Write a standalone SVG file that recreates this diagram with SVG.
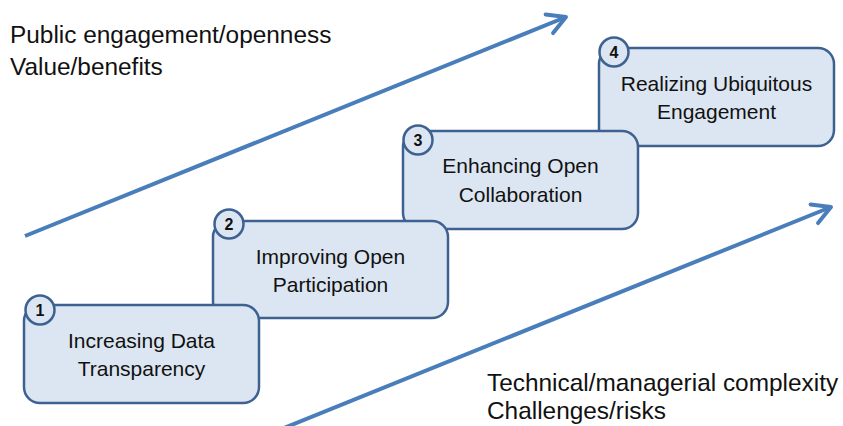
<svg xmlns="http://www.w3.org/2000/svg" width="843" height="426" viewBox="0 0 843 426">
<style>
.box{fill:#dce6f2;stroke:#3d6291;stroke-width:2.5}
.num{fill:#dce6f2;stroke:#3d6291;stroke-width:2.5}
.t{font-family:"Liberation Sans",Arial,sans-serif;font-size:21px;fill:#111;text-anchor:middle}
.n{font-family:"Liberation Sans",Arial,sans-serif;font-size:16px;font-weight:bold;fill:#111;text-anchor:middle}
.lbl{font-family:"Liberation Sans",Arial,sans-serif;font-size:24.4px;fill:#111}
.arr{stroke:#4a7ebb;stroke-width:4;fill:none;marker-end:url(#ah)}
</style>
<defs>
<marker id="ah" markerUnits="userSpaceOnUse" markerWidth="30" markerHeight="30" viewBox="-20 -15 30 30" refX="0" refY="0" orient="auto">
<path d="M-18,-10 L0,0 L-18,10" fill="none" stroke="#4a7ebb" stroke-width="4" stroke-linejoin="round" stroke-linecap="round"/>
</marker>
</defs>
<g id="connectors">
<line class="arr" x1="25" y1="236" x2="566" y2="17"/>
<line class="arr" x1="284" y1="428" x2="831" y2="207"/>
</g>
<g id="labels">
<text class="lbl" x="10" y="43">Public engagement/openness</text>
<text class="lbl" x="10" y="75">Value/benefits</text>
<text class="lbl" x="487" y="391">Technical/managerial complexity</text>
<text class="lbl" x="487" y="419">Challenges/risks</text>
</g>
<g id="node4">
<rect class="box" x="599" y="48" width="235" height="98" rx="16"/>
<circle class="num" cx="614" cy="52" r="14.5"/>
<text class="n" x="614" y="58">4</text>
<text class="t" x="716.5" y="91">Realizing Ubiquitous</text>
<text class="t" x="716.5" y="119">Engagement</text>
</g>
<g id="node3">
<rect class="box" x="403" y="131" width="235" height="98" rx="16"/>
<circle class="num" cx="418" cy="140" r="14.5"/>
<text class="n" x="418" y="146">3</text>
<text class="t" x="520.5" y="173">Enhancing Open</text>
<text class="t" x="520.5" y="202">Collaboration</text>
</g>
<g id="node2">
<rect class="box" x="213" y="221" width="235" height="97" rx="16"/>
<circle class="num" cx="229" cy="224" r="14.5"/>
<text class="n" x="229" y="230">2</text>
<text class="t" x="330.5" y="264">Improving Open</text>
<text class="t" x="330.5" y="292">Participation</text>
</g>
<g id="node1">
<rect class="box" x="24" y="305" width="235" height="98" rx="16"/>
<circle class="num" cx="40" cy="310" r="14.5"/>
<text class="n" x="40" y="316">1</text>
<text class="t" x="141.5" y="348">Increasing Data</text>
<text class="t" x="141.5" y="376">Transparency</text>
</g>
</svg>
